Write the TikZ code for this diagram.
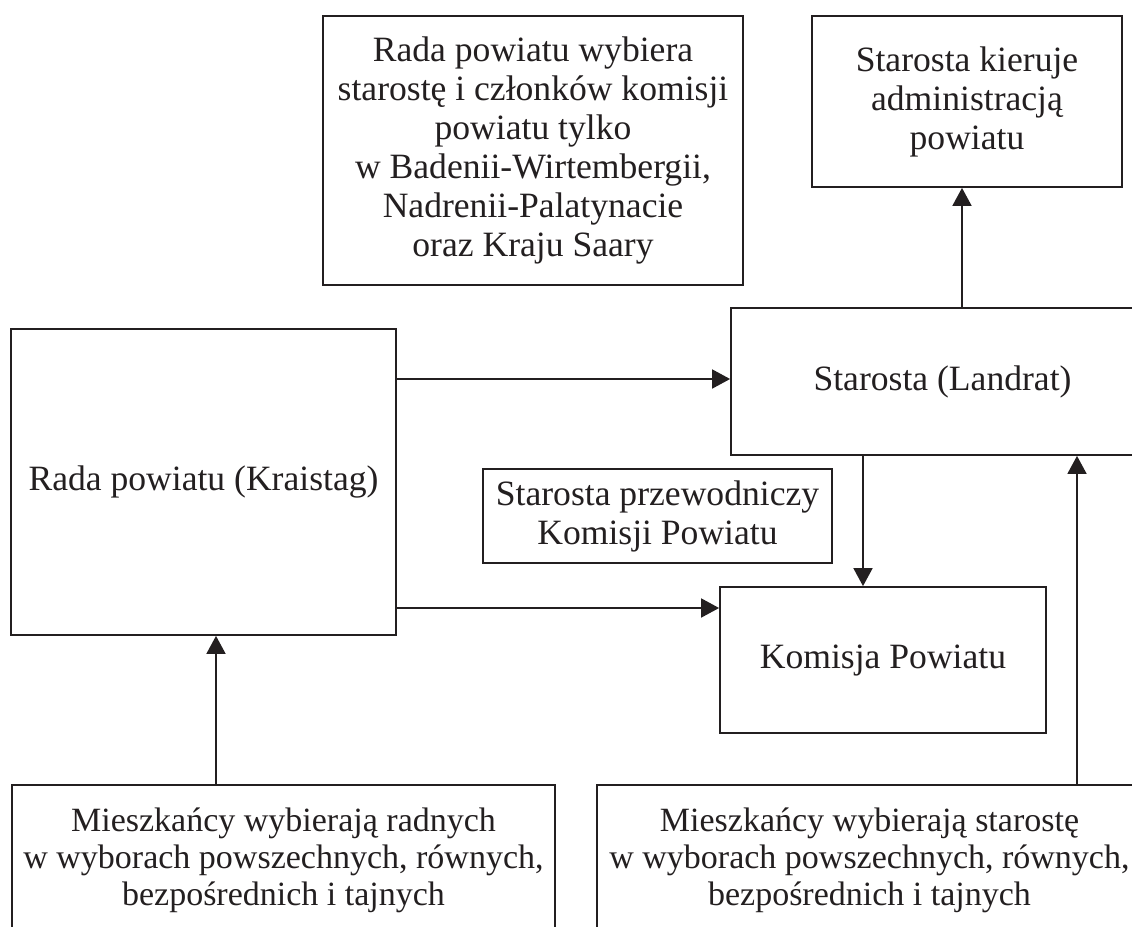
\documentclass[tikz,border=0pt]{standalone}
\usepackage{fontspec}
\setmainfont{Liberation Serif}
\usetikzlibrary{arrows.meta}
\definecolor{ink}{RGB}{35,31,32}
\tikzset{
  box/.style={draw=ink, line width=1.8pt, inner sep=0pt, align=center,
    text=ink, font=\fontsize{35.6}{39}\selectfont},
  lowbox/.style={box, font=\fontsize{34}{37}\selectfont},
  arr/.style={draw=ink, line width=1.8pt, -{Triangle[length=18pt,width=19pt]}}
}
\begin{document}
\begin{tikzpicture}[x=1pt, y=-1pt]
  \fill[white] (0,0) rectangle (1132,926);
  \useasboundingbox (0,0) rectangle (1132,926);
  \clip (0,0) rectangle (1132,926);

  % boxes (centre, width, height in pixel-like units)
  \node[box, minimum width=420, minimum height=269] (elect) at (533,150.5)
    {Rada powiatu wybiera\\ starostę i członków komisji\\ powiatu tylko\\
     w Badenii-Wirtembergii,\\ Nadrenii-Palatynacie\\ oraz Kraju Saary};
  \node[box, minimum width=310, minimum height=171] (admin) at (967,101.5)
    {Starosta kieruje\\ administracją\\ powiatu};
  \node[box, minimum width=385, minimum height=306] (rada) at (203.5,482)
    {Rada powiatu (Kraistag)};
  \node[box, minimum width=423, minimum height=147] (starosta) at (942.5,381.5)
    {Starosta (Landrat)};
  \node[box, minimum width=349, minimum height=94] (chair) at (657.5,516)
    {Starosta przewodniczy\\ Komisji Powiatu};
  \node[box, minimum width=326, minimum height=146] (komisja) at (883,660)
    {Komisja Powiatu};
  \node[lowbox, minimum width=543, minimum height=150] (votersL) at (283.5,860)
    {Mieszkańcy wybierają radnych\\ w wyborach powszechnych, równych,\\
     bezpośrednich i tajnych};
  \node[lowbox, minimum width=545, minimum height=150] (votersR) at (869.5,860)
    {Mieszkańcy wybierają starostę\\ w wyborach powszechnych, równych,\\
     bezpośrednich i tajnych};

  % connector lanes
  \coordinate (rowA) at (0,379);
  \coordinate (rowB) at (0,608);
  \coordinate (colA) at (216,0);
  \coordinate (colB) at (863,0);
  \coordinate (colC) at (962,0);
  \coordinate (colD) at (1077,0);

  % connectors
  \draw[arr] (rada.east |- rowA) -- (starosta.west |- rowA);
  \draw[arr] (rada.east |- rowB) -- (komisja.west |- rowB);
  \draw[arr] (starosta.north -| colC) -- (admin.south -| colC);
  \draw[arr] (starosta.south -| colB) -- (komisja.north -| colB);
  \draw[arr] (votersL.north -| colA) -- (rada.south -| colA);
  \draw[arr] (votersR.north -| colD) -- (starosta.south -| colD);
\end{tikzpicture}
\end{document}
